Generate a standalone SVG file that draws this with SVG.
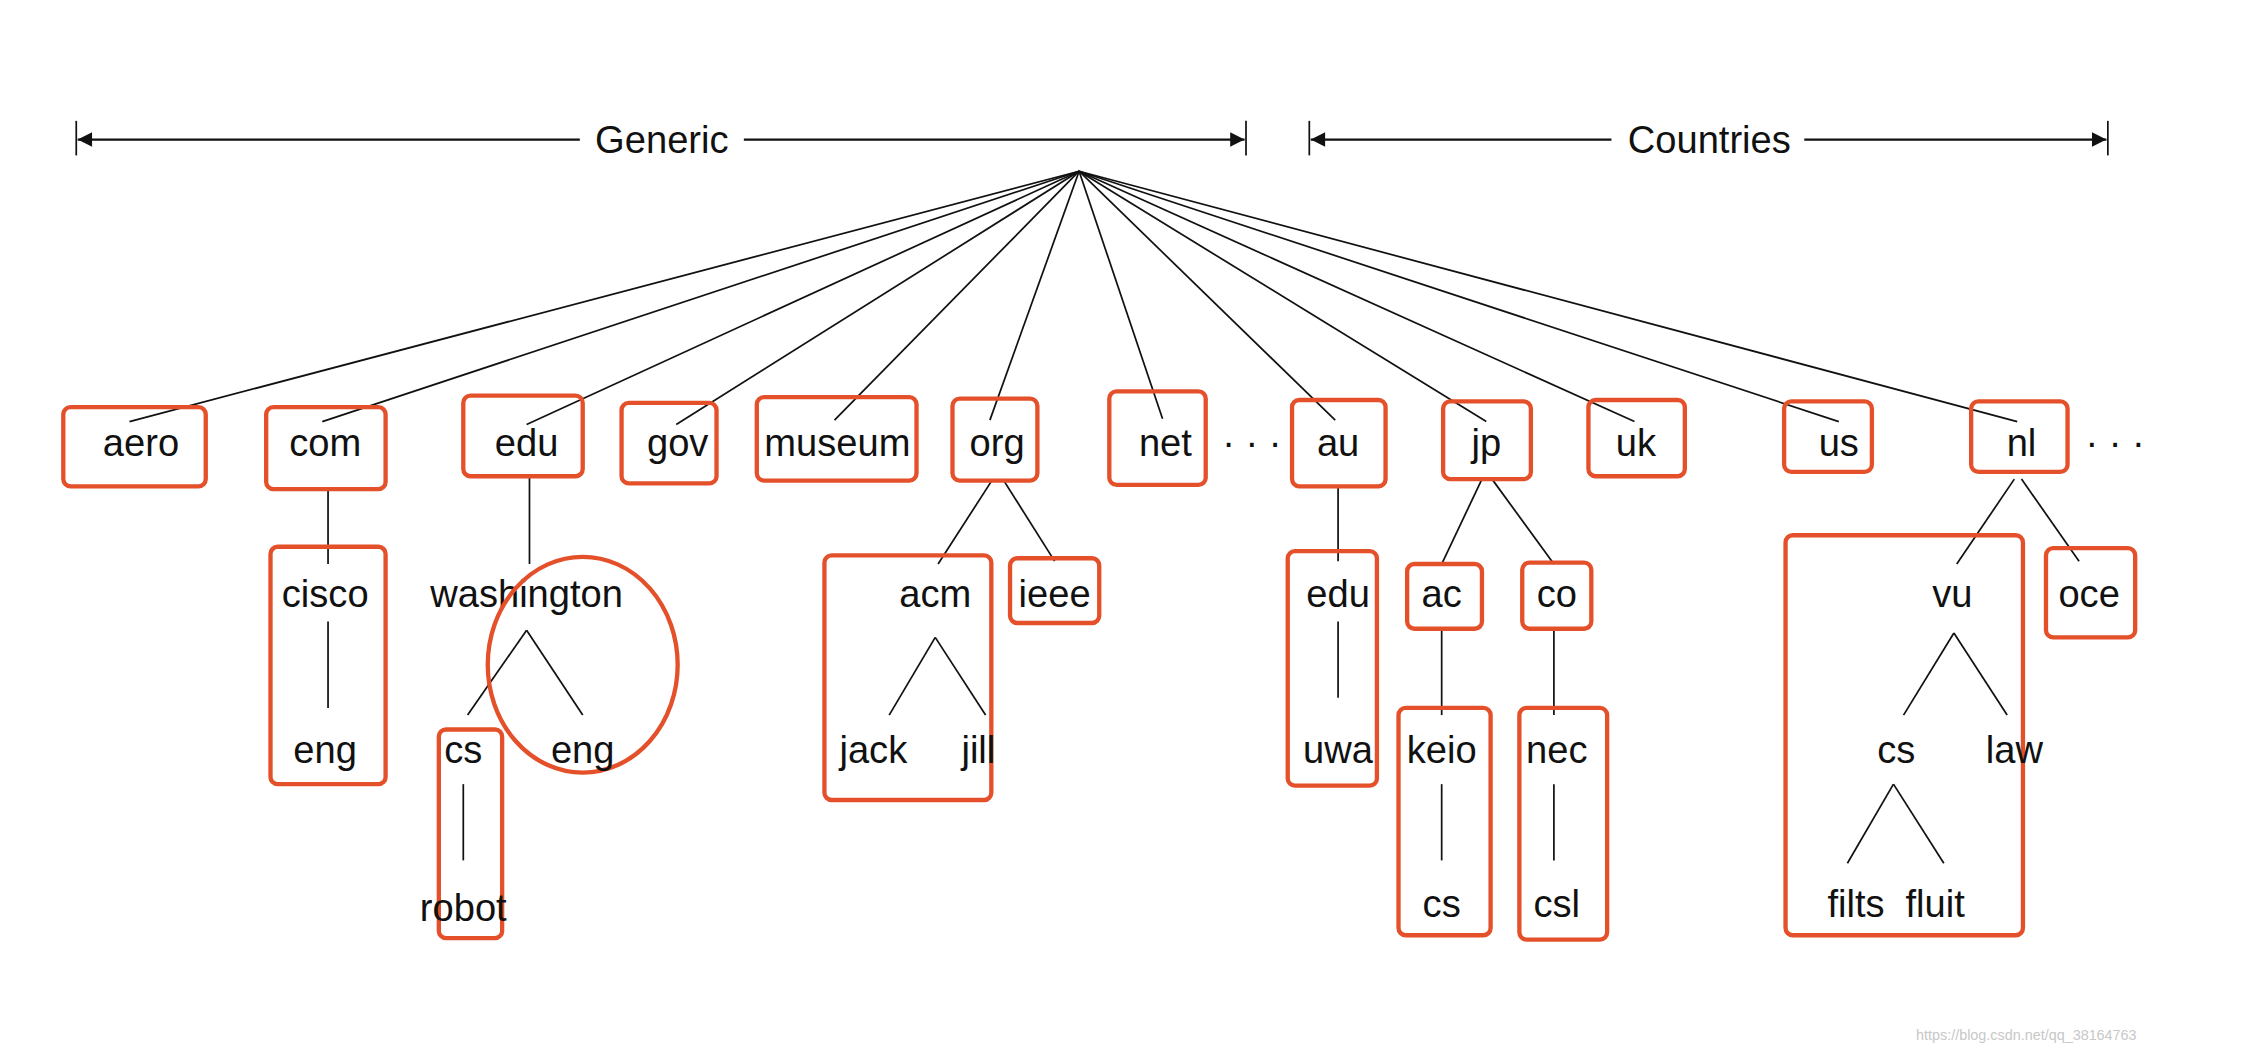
<svg xmlns="http://www.w3.org/2000/svg" width="2256" height="1050" viewBox="0 0 2256 1050">
<style>
text{font-family:"Liberation Sans",Arial,sans-serif;font-size:26.5px;fill:#111;text-anchor:middle}
.l{stroke:#111;stroke-width:1.2;fill:none}
.a{stroke:#111;stroke-width:1.5;fill:none}
.r{fill:none;stroke:#e4502a;stroke-width:3;}
</style>
<defs>
<marker id="ar" viewBox="0 0 10 10" refX="10" refY="5" markerWidth="14" markerHeight="10" markerUnits="userSpaceOnUse" orient="auto-start-reverse"><path d="M0,0L10,5L0,10z" fill="#111"/></marker>
</defs>
<rect width="2256" height="1050" fill="#fff"/>
<g transform="scale(1.4388)">
<g id="connectors">
<line class="l" x1="53" y1="84" x2="53" y2="108"/>
<line class="l" x1="866" y1="84" x2="866" y2="108"/>
<line class="a" x1="54" y1="97" x2="403" y2="97" marker-start="url(#ar)"/>
<line class="a" x1="517" y1="97" x2="865" y2="97" marker-end="url(#ar)"/>
<line class="l" x1="910" y1="84" x2="910" y2="108"/>
<line class="l" x1="1465" y1="84" x2="1465" y2="108"/>
<line class="a" x1="911" y1="97" x2="1120" y2="97" marker-start="url(#ar)"/>
<line class="a" x1="1254" y1="97" x2="1464" y2="97" marker-end="url(#ar)"/>
<g class="l">
<line x1="750" y1="119" x2="90" y2="293"/>
<line x1="750" y1="119" x2="224" y2="293"/>
<line x1="750" y1="119" x2="366" y2="295"/>
<line x1="750" y1="119" x2="470" y2="295"/>
<line x1="750" y1="119" x2="580" y2="292"/>
<line x1="750" y1="119" x2="688" y2="292"/>
<line x1="750" y1="119" x2="808" y2="291"/>
<line x1="750" y1="119" x2="928" y2="292"/>
<line x1="750" y1="119" x2="1033" y2="293"/>
<line x1="750" y1="119" x2="1136" y2="293"/>
<line x1="750" y1="119" x2="1278" y2="293"/>
<line x1="750" y1="119" x2="1402" y2="293"/>
<line x1="228" y1="340" x2="228" y2="392"/>
<line x1="228" y1="432" x2="228" y2="492"/>
<line x1="368" y1="331" x2="368" y2="392"/>
<line x1="366" y1="438" x2="325" y2="497"/>
<line x1="366" y1="438" x2="405" y2="497"/>
<line x1="322" y1="545" x2="322" y2="598"/>
<line x1="690" y1="333" x2="652" y2="392"/>
<line x1="697" y1="333" x2="733" y2="390"/>
<line x1="650" y1="443" x2="618" y2="497"/>
<line x1="650" y1="443" x2="685" y2="497"/>
<line x1="930" y1="338" x2="930" y2="390"/>
<line x1="930" y1="432" x2="930" y2="485"/>
<line x1="1030" y1="333" x2="1002" y2="392"/>
<line x1="1037" y1="333" x2="1080" y2="392"/>
<line x1="1002" y1="438" x2="1002" y2="497"/>
<line x1="1080" y1="438" x2="1080" y2="497"/>
<line x1="1002" y1="545" x2="1002" y2="598"/>
<line x1="1080" y1="545" x2="1080" y2="598"/>
<line x1="1400" y1="333" x2="1360" y2="392"/>
<line x1="1405" y1="333" x2="1445" y2="390"/>
<line x1="1358" y1="440" x2="1323" y2="497"/>
<line x1="1358" y1="440" x2="1395" y2="497"/>
<line x1="1316" y1="545" x2="1284" y2="600"/>
<line x1="1316" y1="545" x2="1351" y2="600"/>
</g>
</g>
<text x="460" y="106">Generic</text>
<text x="1188" y="106">Countries</text>
<g id="aero"><rect class="r" x="44" y="283" width="99" height="55" rx="5"/><text x="98" y="317">aero</text></g>
<g id="com"><rect class="r" x="185" y="283" width="83" height="57" rx="5"/><text x="226" y="317">com</text></g>
<g id="edu"><rect class="r" x="322" y="275" width="83" height="56" rx="5"/><text x="366" y="317">edu</text></g>
<g id="gov"><rect class="r" x="432" y="280" width="66" height="56" rx="5"/><text x="471" y="317">gov</text></g>
<g id="museum"><rect class="r" x="526" y="276" width="111" height="58" rx="5"/><text x="582" y="317">museum</text></g>
<g id="org"><rect class="r" x="662" y="277" width="59" height="57" rx="5"/><text x="693" y="317">org</text></g>
<g id="net"><rect class="r" x="771" y="272" width="67" height="65" rx="5"/><text x="810" y="317">net</text></g>
<text x="870" y="317">· · ·</text>
<g id="au"><rect class="r" x="898" y="278" width="65" height="60" rx="5"/><text x="930" y="317">au</text></g>
<g id="jp"><rect class="r" x="1003" y="279" width="61" height="54" rx="5"/><text x="1033" y="317">jp</text></g>
<g id="uk"><rect class="r" x="1104" y="278" width="67" height="53" rx="5"/><text x="1137" y="317">uk</text></g>
<g id="us"><rect class="r" x="1240" y="279" width="61" height="49" rx="5"/><text x="1278" y="317">us</text></g>
<g id="nl"><rect class="r" x="1370" y="279" width="67" height="49" rx="5"/><text x="1405" y="317">nl</text></g>
<text x="1470" y="317">· · ·</text>
<g id="cisco"><rect class="r" x="188" y="380" width="80" height="165" rx="5"/><text x="226" y="422">cisco</text><text x="226" y="530">eng</text></g>
<g id="washington"><text x="366" y="422">washington</text><ellipse class="r" cx="405" cy="462" rx="66" ry="75"/><text x="405" y="530">eng</text></g>
<g id="cs1"><rect class="r" x="305" y="507" width="44" height="145" rx="5"/><text x="322" y="530">cs</text><text x="322" y="640">robot</text></g>
<g id="acm"><rect class="r" x="573" y="386" width="116" height="170" rx="5"/><text x="650" y="422">acm</text><text x="607" y="530">jack</text><text x="680" y="530">jill</text></g>
<g id="ieee"><rect class="r" x="702" y="388" width="62" height="45" rx="5"/><text x="733" y="422">ieee</text></g>
<g id="edu2"><rect class="r" x="895" y="383" width="62" height="163" rx="5"/><text x="930" y="422">edu</text><text x="930" y="530">uwa</text></g>
<g id="ac"><rect class="r" x="978" y="392" width="52" height="45" rx="5"/><text x="1002" y="422">ac</text></g>
<g id="co"><rect class="r" x="1058" y="391" width="48" height="46" rx="5"/><text x="1082" y="422">co</text></g>
<g id="keio"><rect class="r" x="972" y="492" width="64" height="158" rx="5"/><text x="1002" y="530">keio</text><text x="1002" y="637">cs</text></g>
<g id="nec"><rect class="r" x="1056" y="492" width="61" height="161" rx="5"/><text x="1082" y="530">nec</text><text x="1082" y="637">csl</text></g>
<g id="vu"><rect class="r" x="1241" y="372" width="165" height="278" rx="5"/><text x="1357" y="422">vu</text><text x="1318" y="530">cs</text><text x="1400" y="530">law</text><text x="1290" y="637">filts</text><text x="1345" y="637">fluit</text></g>
<g id="oce"><rect class="r" x="1422" y="381" width="62" height="62" rx="5"/><text x="1452" y="422">oce</text></g>
<text x="1485" y="723" style="font-size:10px;fill:#c8c8c8;text-anchor:end">https://blog.csdn.net/qq_38164763</text>
</g>
</svg>
